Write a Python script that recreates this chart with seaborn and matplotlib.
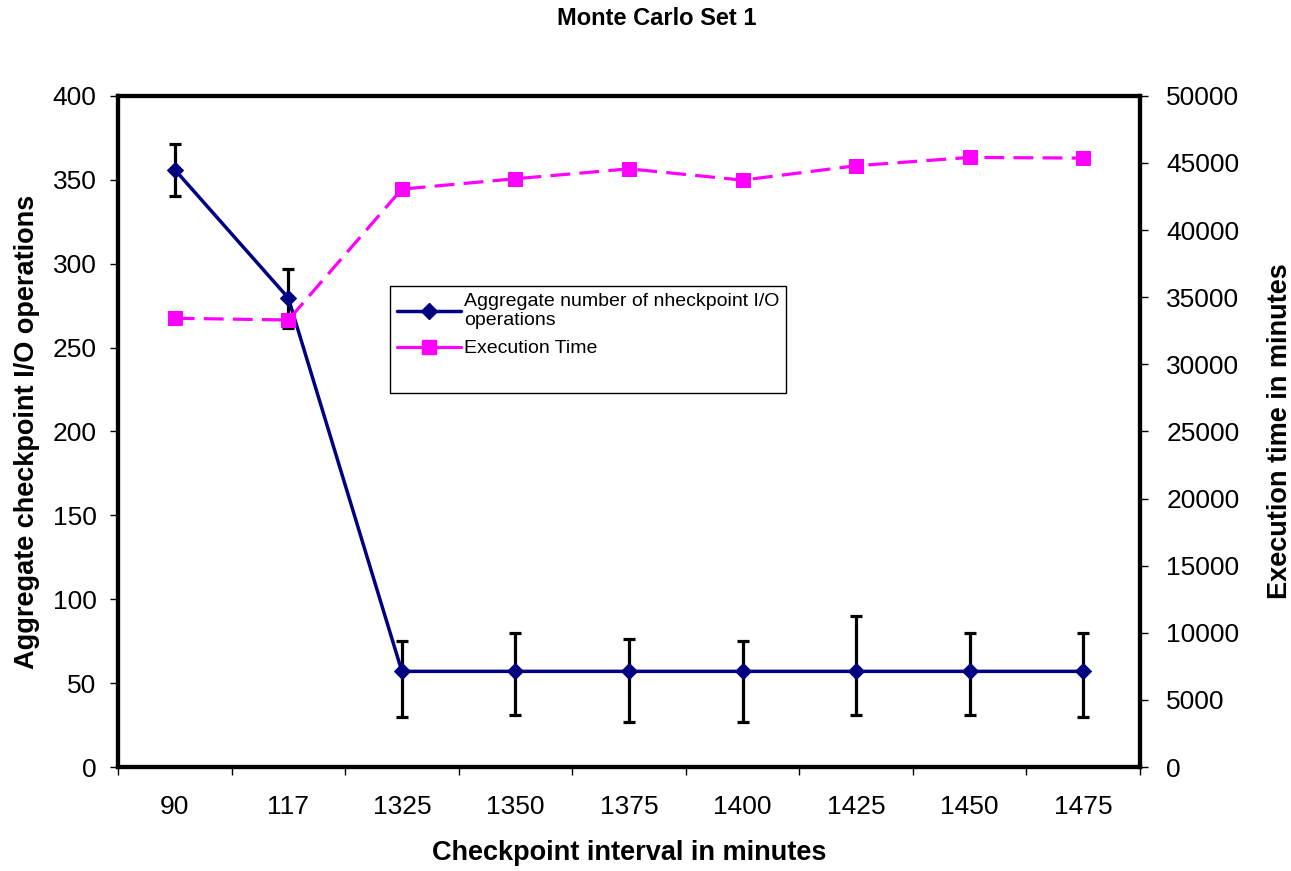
import matplotlib
matplotlib.use("Agg")
import matplotlib.pyplot as plt
from matplotlib.lines import Line2D
import seaborn as sns
import pandas as pd
import numpy as np

# Checkpoint intervals (minutes) used as categories
intervals = ["90", "117", "1325", "1350", "1375", "1400", "1425", "1450", "1475"]

# Aggregate checkpoint I/O operations with error bar extents
io_ops = [356, 279.5, 57, 57, 57, 57, 57, 57, 57]
io_upper = [371.5, 297, 75, 80, 76, 75, 90, 80, 80]
io_lower = [340, 261.5, 30, 31, 27, 27, 31, 31, 30]

# Execution time in minutes
exec_time = [33430, 33300, 43050, 43820, 44560, 43720, 44790, 45410, 45360]

sns.set_theme(style="white")
plt.rcParams["font.family"] = ["Liberation Sans", "DejaVu Sans"]
plt.rcParams["text.color"] = "black"
plt.rcParams["axes.labelcolor"] = "black"
plt.rcParams["xtick.color"] = "black"
plt.rcParams["ytick.color"] = "black"

df = pd.DataFrame({
    "interval": intervals,
    "pos": np.arange(len(intervals)),
    "io": io_ops,
    "exec": exec_time,
})

fig = plt.figure(figsize=(12.91, 8.71), dpi=100)
ax = fig.add_axes([0.0914, 0.1194, 0.7916, 0.7706])
ax2 = ax.twinx()

navy = "#000080"
magenta = "#FF00FF"

yerr = np.array([np.array(io_ops) - np.array(io_lower),
                 np.array(io_upper) - np.array(io_ops)])
ax.errorbar(df["pos"], df["io"], yerr=yerr, fmt="none", ecolor="black",
            elinewidth=2.3, capsize=4.5, capthick=2.3, zorder=2)
sns.lineplot(data=df, x="pos", y="io", ax=ax, color=navy, lw=2.5,
             marker="D", markersize=8.5, markeredgecolor=navy,
             label="Aggregate number of nheckpoint I/O\noperations",
             legend=False, zorder=3)
sns.lineplot(data=df, x="pos", y="exec", ax=ax2, color=magenta, lw=2.3,
             marker="s", markersize=10, markeredgecolor=magenta,
             label="Execution Time", legend=False, zorder=3)
ax2.lines[0].set_dashes((6.2, 2.9))

ax.set_xlim(-0.5, len(intervals) - 0.5)
ax.set_ylim(0, 400)
ax2.set_ylim(0, 50000)
ax.set_yticks(np.arange(0, 401, 50))
ax2.set_yticks(np.arange(0, 50001, 5000))

# Category boundaries carry the tick marks, labels sit at category centres
ax.set_xticks(np.arange(-0.5, len(intervals), 1.0))
ax.set_xticklabels([])
ax.set_xticks(np.arange(len(intervals)), minor=True)
ax.set_xticklabels(intervals, minor=True)
ax.tick_params(axis="x", which="major", direction="out", length=6, width=1,
               bottom=True)
ax.tick_params(axis="x", which="minor", length=0, pad=20, labelsize=19)
ax.tick_params(axis="y", direction="out", length=6, width=1,
               left=True, labelsize=19, pad=9.5)
ax2.tick_params(axis="y", direction="out", length=6, width=1,
                right=True, labelsize=19, pad=13)

for a in (ax, ax2):
    for s in a.spines.values():
        s.set_color("black")
        s.set_linewidth(3)

ax.set_xlabel("Checkpoint interval in minutes", fontsize=19.5,
              fontweight="bold", labelpad=15)
ax.set_ylabel("Aggregate checkpoint I/O operations", fontsize=19.5,
              fontweight="bold", labelpad=9)
ax2.set_ylabel("Execution time in minutes", fontsize=19.5, fontweight="bold",
               labelpad=20)
fig.suptitle("Monte Carlo Set 1", fontsize=17, fontweight="bold",
             x=0.509, y=0.992)

# Legend with a spare blank row at the bottom of the box; the handles are
# shown as solid lines
h1, l1 = ax.get_legend_handles_labels()
h2, l2 = ax2.get_legend_handles_labels()
io_handle = Line2D([], [], color=navy, lw=2.5, marker="D", markersize=8.5)
exec_handle = Line2D([], [], color=magenta, lw=2.3, marker="s",
                     markersize=10)
blank = Line2D([], [], alpha=0)
leg = ax2.legend([io_handle, exec_handle, blank], l1 + l2 + [""],
                 loc="upper left", bbox_to_anchor=(0.266, 0.717), fontsize=14,
                 frameon=True, fancybox=False, edgecolor="black",
                 framealpha=1, handlelength=3.3, handletextpad=0.15,
                 borderpad=0.35, labelspacing=0.55, borderaxespad=0)
leg.get_frame().set_linewidth(1)

fig.savefig("out.png", dpi=100)
